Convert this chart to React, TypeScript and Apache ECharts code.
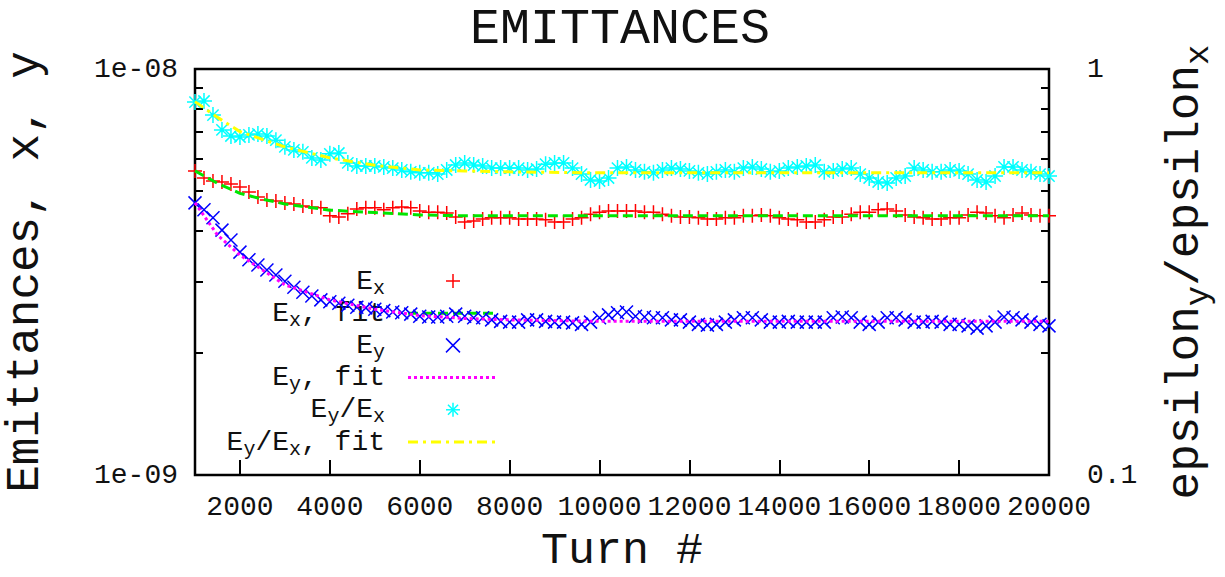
import React, { useEffect, useRef } from 'react';
import * as echarts from 'echarts';

// ---- data (emittances in units of 1e-9, ratio dimensionless) ----
const UNIT = 1e-9;

const turns = [
  1000, 1200, 1400, 1600, 1800, 2000, 2200, 2400, 2600, 2800,
  3000, 3200, 3400, 3600, 3800, 4000, 4200, 4400, 4600, 4800,
  5000, 5200, 5400, 5600, 5800, 6000, 6200, 6400, 6600, 6800,
  7000, 7200, 7400, 7600, 7800, 8000, 8200, 8400, 8600, 8800,
  9000, 9200, 9400, 9600, 9800, 10000, 10200, 10400, 10600, 10800,
  11000, 11200, 11400, 11600, 11800, 12000, 12200, 12400, 12600, 12800,
  13000, 13200, 13400, 13600, 13800, 14000, 14200, 14400, 14600, 14800,
  15000, 15200, 15400, 15600, 15800, 16000, 16200, 16400, 16600, 16800,
  17000, 17200, 17400, 17600, 17800, 18000, 18200, 18400, 18600, 18800,
  19000, 19200, 19400, 19600, 19800, 20000,
];

const exValues = [
  5.61, 5.39, 5.30, 5.27, 5.21, 5.12, 4.98, 4.84, 4.76, 4.73,
  4.68, 4.65, 4.60, 4.57, 4.55, 4.35, 4.32, 4.40, 4.52, 4.55,
  4.55, 4.50, 4.55, 4.57, 4.55, 4.47, 4.44, 4.44, 4.42, 4.32,
  4.20, 4.22, 4.27, 4.30, 4.30, 4.30, 4.27, 4.27, 4.27, 4.25,
  4.20, 4.20, 4.27, 4.30, 4.39, 4.44, 4.47, 4.47, 4.47, 4.47,
  4.44, 4.44, 4.39, 4.35, 4.32, 4.32, 4.30, 4.27, 4.27, 4.30,
  4.30, 4.35, 4.35, 4.37, 4.35, 4.30, 4.27, 4.25, 4.20, 4.20,
  4.25, 4.32, 4.32, 4.39, 4.44, 4.44, 4.50, 4.52, 4.47, 4.37,
  4.32, 4.30, 4.27, 4.27, 4.30, 4.30, 4.37, 4.44, 4.42, 4.35,
  4.30, 4.37, 4.42, 4.37, 4.35, 4.35,
];

const eyValues = [
  4.68, 4.50, 4.30, 4.01, 3.79, 3.54, 3.39, 3.29, 3.20, 3.11,
  3.00, 2.90, 2.82, 2.76, 2.70, 2.67, 2.65, 2.62, 2.59, 2.58,
  2.56, 2.54, 2.52, 2.51, 2.49, 2.46, 2.45, 2.45, 2.46, 2.49,
  2.46, 2.44, 2.44, 2.41, 2.39, 2.38, 2.38, 2.41, 2.41, 2.39,
  2.38, 2.38, 2.37, 2.35, 2.38, 2.44, 2.48, 2.51, 2.52, 2.46,
  2.45, 2.44, 2.44, 2.41, 2.41, 2.38, 2.35, 2.34, 2.35, 2.38,
  2.41, 2.44, 2.44, 2.41, 2.38, 2.38, 2.39, 2.38, 2.38, 2.38,
  2.38, 2.44, 2.45, 2.44, 2.38, 2.35, 2.38, 2.44, 2.44, 2.41,
  2.38, 2.38, 2.39, 2.38, 2.35, 2.35, 2.33, 2.30, 2.33, 2.38,
  2.45, 2.44, 2.41, 2.38, 2.35, 2.33,
];

const ratioValues = [
  0.829, 0.834, 0.770, 0.708, 0.684, 0.680, 0.688, 0.692, 0.684, 0.668,
  0.643, 0.632, 0.625, 0.604, 0.597, 0.618, 0.621, 0.587, 0.577, 0.577,
  0.577, 0.574, 0.570, 0.564, 0.558, 0.555, 0.555, 0.551, 0.564, 0.580,
  0.587, 0.580, 0.577, 0.570, 0.570, 0.570, 0.570, 0.564, 0.567, 0.583,
  0.587, 0.587, 0.570, 0.551, 0.533, 0.530, 0.539, 0.570, 0.574, 0.564,
  0.558, 0.555, 0.564, 0.570, 0.567, 0.561, 0.555, 0.551, 0.558, 0.564,
  0.558, 0.570, 0.574, 0.567, 0.558, 0.561, 0.570, 0.574, 0.577, 0.580,
  0.558, 0.561, 0.567, 0.570, 0.551, 0.539, 0.527, 0.524, 0.539, 0.545,
  0.570, 0.564, 0.558, 0.558, 0.564, 0.561, 0.551, 0.533, 0.527, 0.545,
  0.574, 0.574, 0.564, 0.558, 0.551, 0.545,
];

const fitTurns = [1000, 1500, 2000, 2500, 3000, 4000, 5000, 6000, 7000, 8000, 10000, 12000, 14000, 16000, 18000, 20000];
const exFitValues = [5.61, 5.23, 4.94, 4.78, 4.65, 4.49, 4.43, 4.37, 4.35, 4.35, 4.35, 4.35, 4.35, 4.35, 4.35, 4.35];
const eyFitValues = [4.68, 3.90, 3.48, 3.20, 2.94, 2.70, 2.56, 2.47, 2.43, 2.41, 2.39, 2.39, 2.39, 2.39, 2.39, 2.39];
const ratioFitValues = [0.831, 0.760, 0.701, 0.671, 0.643, 0.604, 0.579, 0.564, 0.561, 0.558, 0.555, 0.555, 0.555, 0.555, 0.555, 0.555];

const xTickValues = [2000, 4000, 6000, 8000, 10000, 12000, 14000, 16000, 18000, 20000];
const minorTickMultiples = [2, 3, 4, 5, 6, 7, 8, 9];

// legend labels: [text, isSubscript] pieces
const legendLabels: [string, boolean][][] = [
  [['E', false], ['x', true]],
  [['E', false], ['x', true], [', fit', false]],
  [['E', false], ['y', true]],
  [['E', false], ['y', true], [', fit', false]],
  [['E', false], ['y', true], ['/E', false], ['x', true]],
  [['E', false], ['y', true], ['/E', false], ['x', true], [', fit', false]],
];

// ---- styling ----
const MONO = '"Liberation Mono", "DejaVu Sans Mono", monospace';
const INK = '#111';
const RED = '#ff0000';
const GREEN = '#00e600';
const BLUE = '#0000ff';
const MAGENTA = '#ff00ff';
const CYAN = '#00ffff';
const YELLOW = '#ffff00';

const PLUS = 'path://M0,6L12,6M6,0L6,12';
const CROSS = 'path://M0,0L12,12M12,0L0,12';
const STAR = 'path://M0,6L12,6M6,0L6,12M1.76,1.76L10.24,10.24M10.24,1.76L1.76,10.24';

const LEG_FONT = 28;
const LEG_SUB = 20;
const ADV = 0.6; // monospace advance per em

const fmtExp = (v: number) => {
  const e = Math.round(Math.log10(v));
  return `1e${e < 0 ? '-' : '+'}${String(Math.abs(e)).padStart(2, '0')}`;
};

function markerLines(kind: string, cx: number, cy: number, color: string) {
  const r = 7;
  const segs: number[][] = [];
  if (kind === 'plus' || kind === 'star') {
    segs.push([-r, 0, r, 0], [0, -r, 0, r]);
  }
  if (kind === 'cross') {
    segs.push([-r, -r, r, r], [r, -r, -r, r]);
  }
  if (kind === 'star') {
    const d = r * 0.72;
    segs.push([-d, -d, d, d], [d, -d, -d, d]);
  }
  return segs.map((s) => ({
    type: 'line',
    z: 1,
    shape: { x1: cx + s[0], y1: cy + s[1], x2: cx + s[2], y2: cy + s[3] },
    style: { stroke: color, lineWidth: 1.5 },
  }));
}

const legendStyles = [
  { kind: 'plus', color: RED },
  { kind: 'line', color: GREEN, dash: [10, 5], width: 3 },
  { kind: 'cross', color: BLUE },
  { kind: 'line', color: MAGENTA, dash: [3, 3], width: 3 },
  { kind: 'star', color: CYAN },
  { kind: 'line', color: YELLOW, dash: [10, 5, 3, 5], width: 3 },
];

function buildLegend() {
  const els: any[] = [];
  const right = 385;
  legendLabels.forEach((pieces, i) => {
    const y = 281 + i * 32.2;
    const widths = pieces.map(([t, sub]) => t.length * (sub ? LEG_SUB : LEG_FONT) * ADV);
    let x = right - widths.reduce((a, b) => a + b, 0);
    pieces.forEach(([t, sub], k) => {
      els.push({
        type: 'text',
        z: 1,
        x,
        y: sub ? y + 7 : y,
        style: {
          text: t,
          fontFamily: MONO,
          fontSize: sub ? LEG_SUB : LEG_FONT,
          lineHeight: sub ? LEG_SUB : LEG_FONT,
          fill: INK,
          align: 'left',
          verticalAlign: 'middle',
        },
      });
      x += widths[k];
    });
    const st = legendStyles[i];
    if (st.kind === 'line') {
      els.push({
        type: 'line',
        z: 1,
        shape: { x1: 408, y1: y, x2: 498, y2: y },
        style: { stroke: st.color, lineWidth: st.width, lineDash: st.dash },
      });
    } else {
      els.push(...markerLines(st.kind, 453, y, st.color));
    }
  });
  return els;
}

export default function App() {
  const ref = useRef<HTMLDivElement>(null);

  useEffect(() => {
    if (!ref.current) return;
    const chart = echarts.init(ref.current, undefined, { renderer: 'svg' });

    const pts = (vals: number[], scale: number) => turns.map((t, i) => [t, vals[i] * scale]);
    const fitPts = (vals: number[], scale: number) => fitTurns.map((t, i) => [t, vals[i] * scale]);

    const minorAxis = (position: 'left' | 'right') => ({
      type: 'value',
      min: 0,
      max: 1,
      position,
      axisLine: { show: false },
      axisLabel: { show: false },
      splitLine: { show: false },
      axisTick: {
        show: true,
        inside: true,
        length: 8,
        customValues: minorTickMultiples.map((k) => Math.log10(k)),
        lineStyle: { color: '#000', width: 2 },
      },
    });

    const option: any = {
      animation: false,
      backgroundColor: '#fff',
      grid: {
        left: 195,
        top: 69,
        width: 854,
        height: 406,
        show: true,
        borderColor: '#000',
        borderWidth: 2.5,
        backgroundColor: 'transparent',
        containLabel: false,
        outerBoundsMode: 'none',
      },
      graphic: {
        elements: [
          {
            type: 'text',
            x: 620,
            y: 29,
            style: {
              text: 'EMITTANCES',
              fontFamily: MONO,
              fontSize: 50,
              lineHeight: 44,
              fill: INK,
              align: 'center',
              verticalAlign: 'middle',
            },
          },
          ...buildLegend(),
        ],
      },
      xAxis: {
        type: 'value',
        min: 1000,
        max: 20000,
        axisLine: { show: false },
        splitLine: { show: false },
        axisTick: {
          show: true,
          inside: true,
          length: 15,
          customValues: xTickValues,
          lineStyle: { color: '#000', width: 2 },
        },
        axisLabel: {
          customValues: xTickValues,
          showMaxLabel: true,
          showMinLabel: true,
          formatter: (v: number) => String(v),
          fontFamily: MONO,
          fontSize: 28,
          color: INK,
          margin: 18,
        },
        name: 'Turn #',
        nameLocation: 'middle',
        nameGap: 54,
        nameTextStyle: { fontFamily: MONO, fontSize: 45, lineHeight: 45, color: INK },
      },
      yAxis: [
        {
          type: 'log',
          logBase: 10,
          min: 1e-9,
          max: 1e-8,
          position: 'left',
          axisLine: { show: false },
          axisTick: { show: false },
          splitLine: { show: false },
          axisLabel: { formatter: fmtExp, fontFamily: MONO, fontSize: 28, color: INK, margin: 17 },
          name: 'Emittances, x, y',
          nameLocation: 'middle',
          nameGap: 146,
          nameTextStyle: { fontFamily: MONO, fontSize: 46, color: INK },
        },
        {
          type: 'log',
          logBase: 10,
          min: 0.1,
          max: 1,
          position: 'right',
          axisLine: { show: false },
          axisTick: { show: false },
          splitLine: { show: false },
          axisLabel: {
            formatter: (v: number) => String(Number(v.toPrecision(3))),
            fontFamily: MONO,
            fontSize: 28,
            color: INK,
            margin: 38,
          },
          name: '{n|epsilon}{s|y}{n|/epsilon}{s|x}',
          nameLocation: 'middle',
          nameGap: 107,
          nameTextStyle: {
            fontFamily: MONO,
            fontSize: 46,
            color: INK,
            rich: {
              n: { fontFamily: MONO, fontSize: 46, color: INK, lineHeight: 46 },
              s: { fontFamily: MONO, fontSize: 34, color: INK, lineHeight: 60, verticalAlign: 'bottom' },
            },
          },
        },
        minorAxis('left'),
        minorAxis('right'),
      ],
      series: [
        {
          name: 'E_x',
          type: 'scatter',
          yAxisIndex: 0,
          symbol: PLUS,
          symbolSize: 14,
          itemStyle: { color: RED, borderColor: RED, borderWidth: 1.5, opacity: 1 },
          data: pts(exValues, UNIT),
        },
        {
          name: 'E_x, fit',
          type: 'line',
          yAxisIndex: 0,
          showSymbol: false,
          symbol: 'none',
          lineStyle: { color: GREEN, width: 3, type: [10, 5] },
          data: fitPts(exFitValues, UNIT),
        },
        {
          name: 'E_y',
          type: 'scatter',
          yAxisIndex: 0,
          symbol: CROSS,
          symbolSize: 13,
          itemStyle: { color: BLUE, borderColor: BLUE, borderWidth: 1.5, opacity: 1 },
          data: pts(eyValues, UNIT),
        },
        {
          name: 'E_y, fit',
          type: 'line',
          yAxisIndex: 0,
          showSymbol: false,
          symbol: 'none',
          lineStyle: { color: MAGENTA, width: 3, type: [3, 3] },
          data: fitPts(eyFitValues, UNIT),
        },
        {
          name: 'E_y/E_x',
          type: 'scatter',
          yAxisIndex: 1,
          symbol: STAR,
          symbolSize: 16,
          itemStyle: { color: CYAN, borderColor: CYAN, borderWidth: 1.5, opacity: 1 },
          data: pts(ratioValues, 1),
        },
        {
          name: 'E_y/E_x, fit',
          type: 'line',
          yAxisIndex: 1,
          showSymbol: false,
          symbol: 'none',
          lineStyle: { color: YELLOW, width: 3, type: [10, 5, 3, 5] },
          data: fitPts(ratioFitValues, 1),
        },
      ],
    };

    chart.setOption(option);
    return () => chart.dispose();
  }, []);

  return (
    <div
      ref={ref}
      style={{ position: 'absolute', left: 0, top: 0, width: 1225, height: 577, background: '#fff' }}
    />
  );
}
